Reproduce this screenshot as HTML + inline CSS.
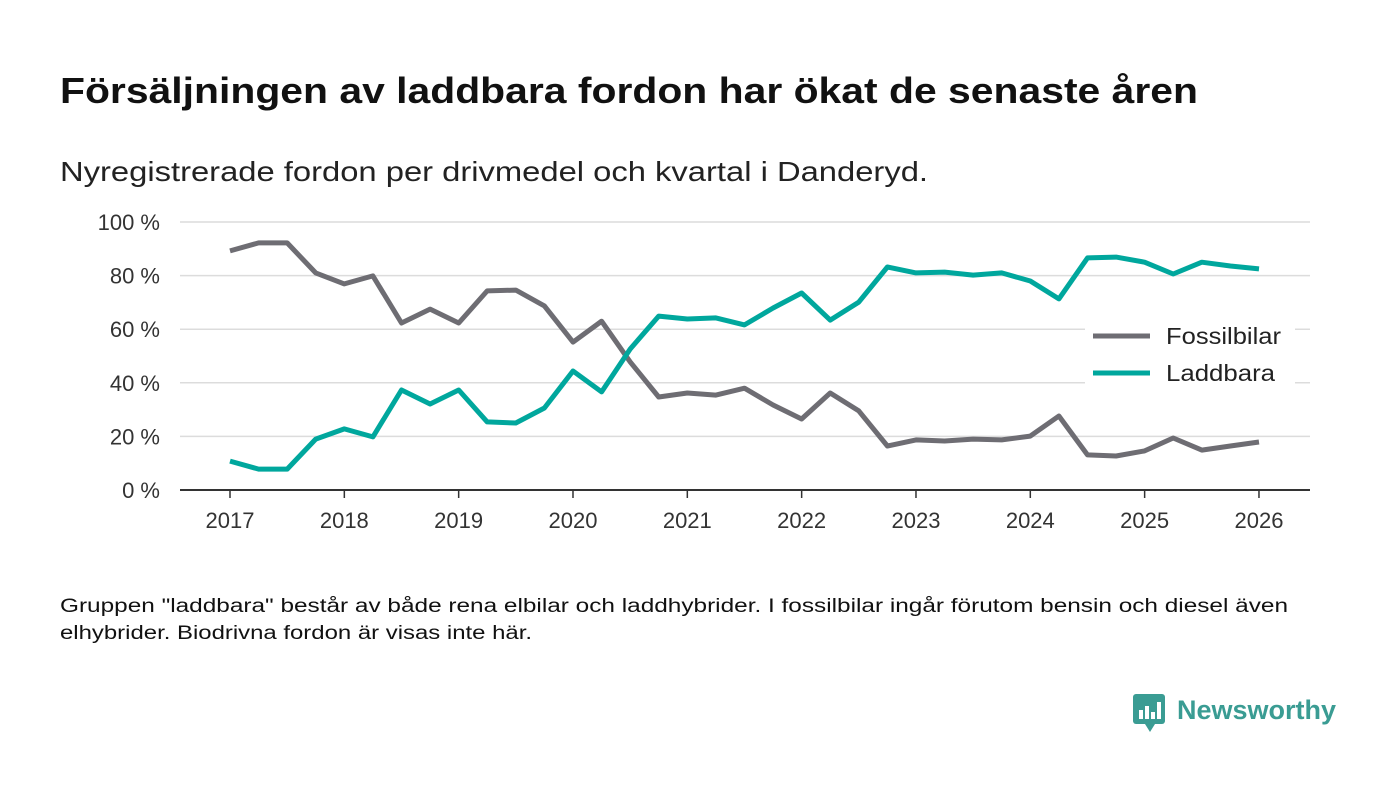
<!DOCTYPE html>
<html><head><meta charset="utf-8"><style>
body{margin:0;background:#fff;width:1400px;height:793px;overflow:hidden;font-family:"Liberation Sans",sans-serif}
</style></head><body>
<svg id="chart" width="1400" height="793" xmlns="http://www.w3.org/2000/svg" font-family="Liberation Sans, DejaVu Sans, sans-serif">
<text x="60" y="103" font-size="36" font-weight="bold" fill="#111" textLength="1138" lengthAdjust="spacingAndGlyphs">Försäljningen av laddbara fordon har ökat de senaste åren</text>
<text x="60" y="181" font-size="28" fill="#222" textLength="868" lengthAdjust="spacingAndGlyphs">Nyregistrerade fordon per drivmedel och kvartal i Danderyd.</text>
<g id="grid"></g>
<g id="xaxis"></g>
<g id="series"></g>
<g>
<rect x="1085" y="318" width="210" height="76" fill="#fff"/>
<g><line x1="1093" y1="336" x2="1150" y2="336" stroke="#6e6d73" stroke-width="5"/><text x="1166" y="344" font-size="23" fill="#222" textLength="115" lengthAdjust="spacingAndGlyphs">Fossilbilar</text></g>
<g><line x1="1093" y1="373" x2="1150" y2="373" stroke="#00a79d" stroke-width="5"/><text x="1166" y="381" font-size="23" fill="#222" textLength="109" lengthAdjust="spacingAndGlyphs">Laddbara</text></g>
</g>
<text font-size="19" fill="#111"><tspan x="60" y="612" textLength="1228" lengthAdjust="spacingAndGlyphs">Gruppen "laddbara" består av både rena elbilar och laddhybrider. I fossilbilar ingår förutom bensin och diesel även</tspan><tspan x="60" y="639" textLength="472" lengthAdjust="spacingAndGlyphs">elhybrider. Biodrivna fordon är visas inte här.</tspan></text>
<g>
<rect x="1133" y="694" width="32" height="30" rx="3" fill="#3a9c93"/>
<polygon points="1145,724 1155,724 1150,732" fill="#3a9c93"/>
<rect x="1139" y="710" width="4" height="9" fill="#fff"/><rect x="1145" y="706" width="4" height="13" fill="#fff"/><rect x="1151" y="712" width="4" height="7" fill="#fff"/><rect x="1157" y="702" width="4" height="17" fill="#fff"/>
<text x="1177" y="719" font-size="27" font-weight="bold" fill="#3a9c93">Newsworthy</text>
</g>
</svg>
<script>
const yTicks=[0,20,40,60,80,100];
const xTicks=[2017,2018,2019,2020,2021,2022,2023,2024,2025,2026];
const fossil=[89.2,92.2,92.2,81,76.9,79.9,62.3,67.5,62.3,74.3,74.6,68.7,55.2,63,47.8,34.7,36.2,35.4,38,31.7,26.5,36.2,29.5,16.4,18.7,18.3,19,18.7,20.1,27.6,13.1,12.7,14.6,19.4,14.9,16.4,17.9];
const laddbara=[10.8,7.8,7.8,19,22.8,19.8,37.3,32.1,37.3,25.4,25,30.6,44.4,36.6,52.6,64.9,63.8,64.2,61.6,67.9,73.5,63.4,70.1,83.2,81,81.3,80.2,81,78,71.3,86.6,86.9,85,80.6,85,83.6,82.5];
const NS="http://www.w3.org/2000/svg";
const y=v=>490-v*2.68;
const x=t=>230+(t-2017)*114.33;
function mk(tag,attrs,parent){const e=document.createElementNS(NS,tag);for(const k in attrs)e.setAttribute(k,attrs[k]);parent.appendChild(e);return e;}
const grid=document.getElementById('grid');
yTicks.forEach(v=>{
 if(v>0){const l=mk('line',{x1:180,x2:1310,y1:y(v),y2:y(v),stroke:'#dcdcdc','stroke-width':1.5},grid);
 
 }
 const t=mk('text',{x:160,y:y(v)+8,'text-anchor':'end','font-size':22,fill:'#333'},grid);
 
 
 t.textContent=v+' %';
});
const xa=document.getElementById('xaxis');
const base=mk('line',{x1:180,x2:1310,y1:490,y2:490,stroke:'#333','stroke-width':2},xa);


xTicks.forEach(v=>{
 const tk=mk('line',{x1:x(v),x2:x(v),y1:490,y2:498,stroke:'#333','stroke-width':1.5},xa);
 
 
 const t=mk('text',{x:x(v),y:528,'text-anchor':'middle','font-size':22,fill:'#333'},xa);
 
 
 t.textContent=v;
});
const s=document.getElementById('series');
function line(data,color,name){
 const d=data.map((v,i)=>(i?'L':'M')+x(2017+i*0.25).toFixed(1)+','+y(v).toFixed(1)).join('');
 const p=mk('path',{d:d,fill:'none',stroke:color,'stroke-width':5,'stroke-linejoin':'round'},s);
 
 
}
line(fossil,'#6e6d73','line-fossilbilar');
line(laddbara,'#00a79d','line-laddbara');
</script>
</body></html>
